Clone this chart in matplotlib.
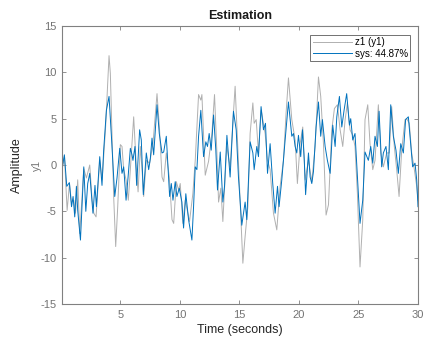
import matplotlib
matplotlib.use("Agg")
import matplotlib.pyplot as plt

plt.rcParams['font.family'] = ['Liberation Sans', 'DejaVu Sans']
plt.rcParams['axes.unicode_minus'] = False

# Measured output z1 (y1) - gray
t_meas = [0.11, 0.31, 0.53, 0.73, 0.89, 1.09, 1.23, 1.42, 1.59, 1.93, 2.15, 2.43, 2.63, 2.77, 2.96,
          3.27, 3.47, 3.75, 4.05, 4.16, 4.30, 4.44, 4.61, 4.78, 5.00, 5.14, 5.28, 5.48, 5.67, 5.84,
          6.12, 6.35, 6.49, 6.68, 6.88, 6.96, 7.18, 7.46, 7.74, 8.08, 8.28, 8.50, 8.64, 8.86, 9.11,
          9.34, 9.48, 9.70, 9.90, 10.03, 10.25, 10.45, 10.81, 11.09, 11.29, 11.57, 11.76, 11.85,
          12.13, 12.41, 12.69, 12.91, 13.11, 13.25, 13.44, 13.61, 13.80, 13.94, 14.22, 14.64, 14.84,
          15.06, 15.29, 15.48, 15.71, 15.90, 16.13, 16.24, 16.41, 16.60, 16.83, 17.16, 17.36, 17.58,
          17.86, 18.14, 18.42, 18.70, 18.92, 19.12, 19.40, 19.68, 19.87, 20.10, 20.32, 20.52, 20.80,
          21.08, 21.36, 21.64, 21.83, 22.06, 22.28, 22.48, 22.76, 22.98, 23.23, 23.46, 23.68, 23.88,
          24.07, 24.29, 24.52, 24.71, 24.91, 25.13, 25.36, 25.55, 25.78, 25.97, 26.20, 26.39, 26.67,
          26.87, 27.09, 27.37, 27.59, 27.79, 28.01, 28.21, 28.41, 28.63, 28.91, 29.05, 29.27, 29.47,
          29.66, 29.89, 30.00]
y_meas = [-0.5, 0.9, -4.9, -2.0, -4.0, -3.8, -5.2, -1.6, -7.4, -0.4, -1.4, 0.0, -3.8, -5.2, -5.6,
          0.5, -1.6, 3.8, 11.8, 9.9, 3.1, -3.4, -8.8, -4.5, 2.2, 2.0, -0.5, -1.6, -3.8, -0.5,
          5.2, -0.4, -2.9, 2.0, -1.6, -3.4, 0.5, 0.2, 2.3, 7.7, 4.1, -1.3, -1.8, 1.3, -1.3,
          -5.9, -6.3, -1.8, -2.7, -2.0, -6.3, -3.8, -6.1, -3.1, 0.5, 7.6, 7.0, 7.6,
          -1.1, 0.4, 3.4, 7.6, 1.3, -4.0, -2.5, -6.1, -1.3, 2.0, -0.2, 8.5, 2.7,
          -3.8, -10.6, -7.7, -4.5, 3.4, 6.7, 4.5, 4.9, 1.3, 5.9, 3.4, 0.5, -0.5,
          -5.2, -7.0, -2.3, 0.5, 5.6, 9.4, 4.9, 2.7, -2.0, 2.3, 4.1, -1.6, 0.5,
          -1.8, 2.0, 9.5, 7.4, 2.3, -5.4, -4.3, 3.8, 6.1, 6.5, 3.8, 2.0, 4.9,
          6.7, 3.8, 3.2, 2.0, -3.1, -11.0, -5.9, 4.9, 6.5, 2.3, -0.5, 0.5, 6.5,
          1.3, -0.2, 1.3, 1.3, 6.3, 2.0, -0.5, -3.4, 1.6, 4.9, 5.0, 4.5, 1.3,
          -0.2, -2.3, -3.8]

# Simulated model output sys - blue
t_sys = [0.10, 0.30, 0.50, 0.72, 0.90, 1.03, 1.17, 1.31, 1.42, 1.65, 1.93, 2.10, 2.26, 2.43, 2.57,
         2.70, 2.87, 2.99, 3.27, 3.46, 3.60, 3.83, 4.05, 4.25, 4.44, 4.53, 4.72, 4.95, 5.14, 5.28,
         5.48, 5.65, 5.84, 5.98, 6.06, 6.23, 6.37, 6.62, 6.76, 6.93, 7.18, 7.38, 7.52, 7.66, 7.80,
         8.08, 8.27, 8.50, 8.64, 8.86, 9.14, 9.28, 9.42, 9.61, 9.75, 9.95, 10.17, 10.31, 10.50,
         10.73, 11.01, 11.15, 11.29, 11.43, 11.57, 11.76, 11.99, 12.18, 12.32, 12.46, 12.63, 12.83,
         13.02, 13.16, 13.39, 13.61, 13.75, 13.95, 14.22, 14.50, 14.73, 14.92, 15.20, 15.48, 15.62,
         15.90, 16.13, 16.24, 16.46, 16.60, 16.82, 17.02, 17.19, 17.36, 17.58, 17.80, 18.00, 18.20,
         18.33, 18.56, 18.84, 19.12, 19.40, 19.54, 19.68, 19.82, 19.96, 20.15, 20.30, 20.45, 20.56,
         20.80, 20.94, 21.08, 21.22, 21.44, 21.64, 21.83, 21.97, 22.20, 22.39, 22.62, 22.84, 23.04,
         23.18, 23.40, 23.60, 23.79, 24.01, 24.24, 24.35, 24.52, 24.71, 24.91, 25.13, 25.36, 25.55,
         25.83, 26.03, 26.20, 26.39, 26.59, 26.73, 26.95, 27.09, 27.31, 27.51, 27.71, 27.93, 28.15,
         28.35, 28.55, 28.77, 28.96, 29.19, 29.38, 29.55, 29.75, 29.89, 30.00]
y_sys = [-0.4, 1.1, -2.3, -1.9, -4.5, -3.4, -5.6, -2.3, -4.9, -8.1, -0.2, -5.0, -2.0, -0.9, -3.1,
         -5.2, -2.2, -4.5, 0.9, -2.2, 1.6, 5.9, 7.4, 3.1, -1.3, -3.4, -1.4, 1.8, -0.9, -0.2,
         -3.8, -1.3, 1.8, 1.1, 0.5, 2.0, -2.2, 3.8, 2.7, -3.2, 1.3, -0.5, 0.7, 2.9, 1.1,
         6.5, 3.4, 1.3, 1.4, 3.1, -3.4, -2.0, -3.8, -1.8, -3.4, -2.5, -4.0, -6.8, -3.1,
         -5.9, -8.1, -4.5, -0.2, -0.5, 3.1, 5.9, 0.9, 2.5, 2.0, 3.4, 1.6, 5.4,
         1.6, -2.7, 1.4, -4.0, -2.3, 3.2, -1.3, 5.8, 3.8, -1.3, -6.5, -4.0, -5.9,
         2.5, 1.3, -0.5, 2.0, 0.9, 6.3, 3.8, 4.5, -0.9, 2.3, -2.0, -5.2, -2.3,
         -4.5, -1.6, 2.7, 6.8, 3.1, 3.4, 2.0, 1.3, 3.2, 0.9, 3.8, 0.5, -3.2,
         1.3, -1.3, -2.0, -0.7, 4.1, 6.8, 3.1, 4.9, 2.0, 0.5, -0.9, 4.3, 2.0,
         5.2, 7.4, 4.1, 5.9, 7.7, 4.3, 5.0, 2.7, 3.4, -1.3, -6.3, -3.8, 1.4,
         0.5, 2.0, 0.2, 3.1, 2.0, 5.8, -0.2, 1.3, 2.0, -0.5, 6.5, 3.1, 1.6,
         -0.9, 2.3, 1.3, 4.9, 5.2, 2.3, -0.2, 0.2, -1.6, -4.5]

x_ticks = [5, 10, 15, 20, 25, 30]
y_ticks = [-15, -10, -5, 0, 5, 10, 15]
legend_labels = ["z1 (y1)", "sys: 44.87%"]

fig = plt.figure(figsize=(4.43, 3.52), dpi=100)
ax = fig.add_axes([62/443, 1 - 304/352, (418 - 62)/443, (304 - 26)/352])

ax.plot(t_meas, y_meas, color=(0.69, 0.69, 0.69), lw=0.7, label=legend_labels[0])
ax.plot(t_sys, y_sys, color='#0072BD', lw=0.7, label=legend_labels[1])

ax.set_xlim(0.1, 30)
ax.set_ylim(-15, 15)
ax.set_xticks(x_ticks)
ax.set_yticks(y_ticks)

axis_col = (0.5, 0.5, 0.5)
for s in ax.spines.values():
    s.set_color(axis_col)
    s.set_linewidth(0.8)
ax.tick_params(direction='in', top=True, right=True, length=3, width=0.6,
               colors=axis_col, labelcolor=(0.45, 0.45, 0.45), labelsize=8, pad=4)

ax.set_title("Estimation", fontsize=9, fontweight='bold', color=(0.1, 0.1, 0.1), pad=5)
ax.set_xlabel("Time (seconds)", fontsize=9, color=(0.15, 0.15, 0.15), labelpad=3)
fig.text(17/443, 1 - 165/352, "Amplitude", rotation=90, fontsize=9, color=(0.15, 0.15, 0.15),
         ha='center', va='center')
fig.text(37/443, 1 - 165/352, "y1", rotation=90, fontsize=7.5, color=(0.45, 0.45, 0.45),
         ha='center', va='center')

leg = ax.legend(loc='upper right', fontsize=7, frameon=True, fancybox=False,
                handlelength=4.0, handletextpad=0.3, borderpad=0.25, labelspacing=0.15,
                bbox_to_anchor=(0.978, 0.968), borderaxespad=0)
leg.get_frame().set_edgecolor((0.3, 0.3, 0.3))
leg.get_frame().set_linewidth(0.7)

fig.savefig("out.png", dpi=100)
